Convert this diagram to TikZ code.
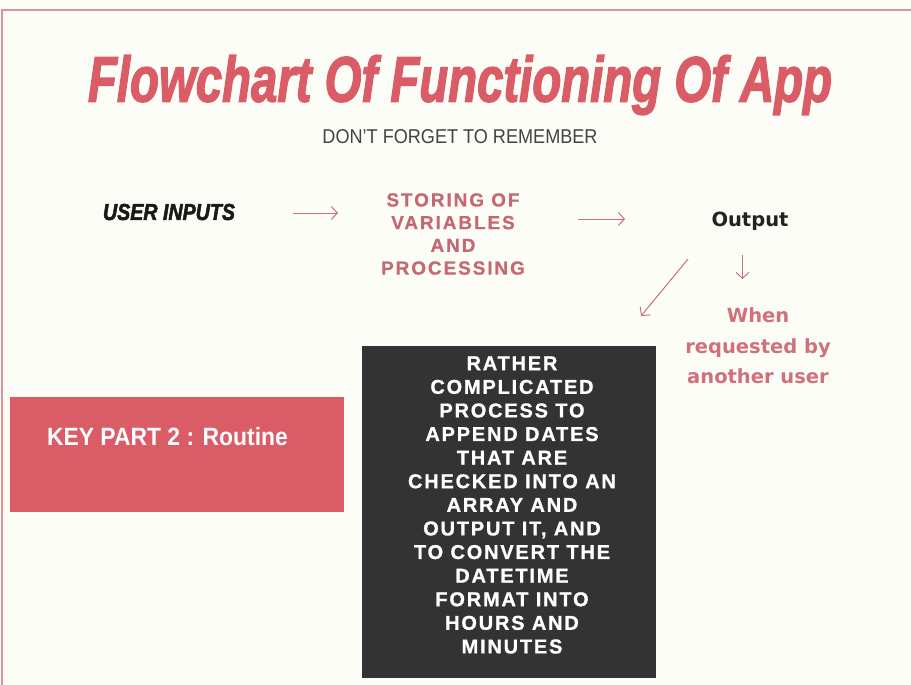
\documentclass[tikz,border=0pt]{standalone}
\usepackage{fontspec}
\setmainfont{Liberation Sans}
\newfontfamily\dejavu{DejaVu Sans}
\newfontfamily\brushfont[BoldItalicFeatures={FakeBold=2.5}]{Liberation Sans}
\newfontfamily\boxfont[LetterSpace=9, BoldFeatures={FakeBold=1}]{Liberation Sans}
\newfontfamily\storefont[LetterSpace=10, BoldFeatures={FakeBold=0.6}]{Liberation Sans}
\usetikzlibrary{arrows.meta}
\definecolor{bg}{HTML}{FDFDF8}
\definecolor{brandred}{HTML}{DA5C66}
\definecolor{rose}{HTML}{C66872}
\definecolor{rosewhen}{HTML}{D0707A}
\definecolor{darkbox}{HTML}{333333}
\definecolor{framec}{HTML}{D9959B}
\definecolor{ink}{HTML}{222222}
\definecolor{arrowc}{HTML}{C97079}
\begin{document}
\begin{tikzpicture}[x=1pt,y=-1pt,
  arr/.style={draw=arrowc, line width=1pt, -{Straight Barb[length=6pt,width=13pt]}},
  plain/.style={inner sep=0pt, outer sep=0pt},
  boxnode/.style={inner sep=0pt, outer sep=0pt, draw=none}]
\fill[bg] (0,0) rectangle (911,685);
\useasboundingbox (0,0) rectangle (911,685);
\draw[framec, line width=2pt] (1.5,685) -- (1.5,10.5) -- (911,10.5);

\node[plain, text=brandred, font=\brushfont\bfseries\itshape\fontsize{64}{64}\selectfont] (title) at (460,85)
  {\resizebox{744pt}{\height}{Flowchart Of Functioning Of App}};
\node[plain, text=ink!85, font=\fontsize{20}{20}\selectfont] (sub) at (460,137)
  {\resizebox{275pt}{\height}{DON'T FORGET TO REMEMBER}};

\node[plain, text=black!90, font=\brushfont\bfseries\itshape\fontsize{23}{23}\selectfont] (ui) at (169,212)
  {\resizebox{132pt}{\height}{USER INPUTS}};
\node[plain, text=rose, align=center, font=\storefont\bfseries\fontsize{19}{22.7}\selectfont] (st) at (453,234)
  {STORING OF\\VARIABLES\\AND\\PROCESSING};
\node[plain, text=ink, font=\dejavu\bfseries\fontsize{19.5}{19.5}\selectfont] (out) at (750,221) {Output};
\node[plain, text=rosewhen, align=center, font=\dejavu\bfseries\fontsize{19.5}{30.5}\selectfont] (when) at (758,346)
  {When\\requested by\\another user};

\node[boxnode, fill=brandred, minimum width=334pt, minimum height=115pt] (key) at (177,454.5) {};
\node[plain, anchor=west, text=white, font=\bfseries\fontsize{25}{25}\selectfont] (keytext) at (47,437)
  {\resizebox{241pt}{\height}{KEY PART 2 : Routine}};

\node[boxnode, fill=darkbox, minimum width=294pt, minimum height=332pt] (proc) at (509,512) {};
\node[plain, text=white, align=center, font=\boxfont\bfseries\fontsize{20}{23.6}\selectfont] (proctext) at (512,505)
  {RATHER\\COMPLICATED\\PROCESS TO\\APPEND DATES\\THAT ARE\\CHECKED INTO AN\\ARRAY AND\\OUTPUT IT, AND\\TO CONVERT THE\\DATETIME\\FORMAT INTO\\HOURS AND\\MINUTES};

\coordinate (a1s) at (293,213);
\coordinate (a1e) at (338,213);
\coordinate (a2s) at (578,219);
\coordinate (a2e) at (625,219);
\coordinate (a3s) at (742.5,255);
\coordinate (a3e) at (742.5,279);
\coordinate (a4s) at (688,259);
\coordinate (a4e) at (641,316);
\draw[arr] (a1s) -- (a1e);
\draw[arr] (a2s) -- (a2e);
\draw[arr] (a3s) -- (a3e);
\draw[arr] (a4s) -- (a4e);
\end{tikzpicture}
\end{document}
